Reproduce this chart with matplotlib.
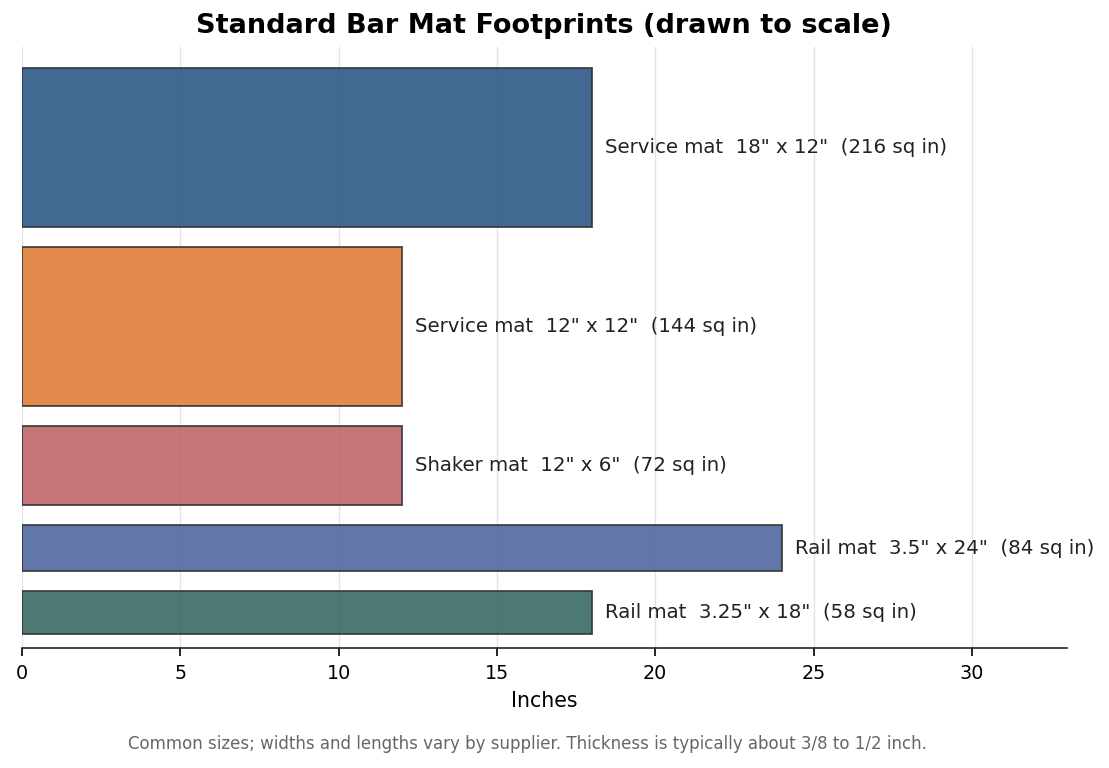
import matplotlib
matplotlib.use("Agg")
import matplotlib.pyplot as plt

names = ["Service mat", "Service mat", "Shaker mat", "Rail mat", "Rail mat"]
lengths = [18, 12, 12, 24, 18]        # drawn along x (inches)
depths = [12, 12, 6, 3.5, 3.25]       # drawn along y (inches)
dim_labels = ['18" x 12"', '12" x 12"', '12" x 6"', '3.5" x 24"', '3.25" x 18"']
areas = [216, 144, 72, 84, 58]
colors = ["#2d5986", "#e07f3a", "#c0676b", "#5068a0", "#386b63"]
gap = 1.5

fig = plt.figure(figsize=(11.09, 7.68), dpi=100)
ax = fig.add_axes([0.0198, 0.156, 0.9422, 0.783])

# stack bars from the bottom up, last one at the bottom
y = 0
bottoms = [0] * len(depths)
for i in range(len(depths) - 1, -1, -1):
    bottoms[i] = y
    y += depths[i] + gap
top = y - gap

for i in range(len(names)):
    ax.barh(bottoms[i], lengths[i], height=depths[i], left=0, align="edge",
            color=colors[i], alpha=0.9, edgecolor="#333333", linewidth=1.3, zorder=2)
    ax.text(lengths[i] + 0.4, bottoms[i] + depths[i] / 2,
            f"{names[i]}  {dim_labels[i]}  ({areas[i]} sq in)",
            va="center", ha="left", fontsize=14.2, color="#222222", zorder=3)

ax.set_xlim(0, 33)
ax.set_ylim(-1.06, top + 1.59)
ax.set_xticks([0, 5, 10, 15, 20, 25, 30])
ax.set_yticks([])
ax.tick_params(axis="x", labelsize=13.8, length=6, width=1.2, pad=5.5)
ax.grid(axis="x", color="#dddddd", linewidth=1, alpha=0.8, zorder=0)
ax.set_axisbelow(True)
for s in ["left", "right", "top"]:
    ax.spines[s].set_visible(False)
ax.spines["bottom"].set_linewidth(1.2)
ax.spines["bottom"].set_color("#222222")

ax.set_xlabel("Inches", fontsize=14.8, labelpad=6)
ax.set_title("Standard Bar Mat Footprints (drawn to scale)", fontsize=19.5, fontweight="bold", pad=10)
fig.text(0.4757, 0.031, "Common sizes; widths and lengths vary by supplier. Thickness is typically about 3/8 to 1/2 inch.",
         ha="center", va="center", fontsize=12, color="#666666")

fig.savefig("out.png", dpi=100)
